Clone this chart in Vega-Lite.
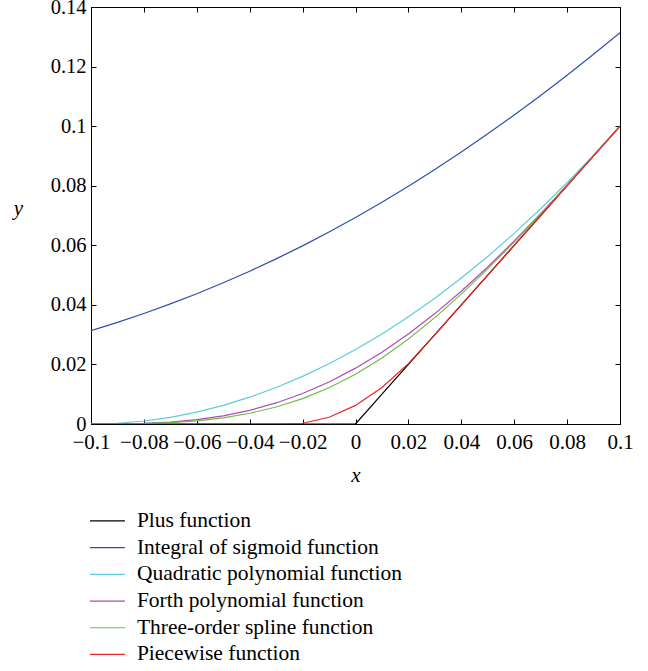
{
  "$schema": "https://vega.github.io/schema/vega-lite/v6.json",
  "width": 529,
  "height": 417,
  "padding": {"left": 91, "top": 7, "right": 28, "bottom": 247},
  "autosize": {"type": "none"},
  "background": "white",
  "config": {
    "view": {"stroke": "black", "strokeWidth": 1},
    "font": "Liberation Serif",
    "axis": {"grid": false, "domainColor": "black", "tickColor": "black", "tickSize": -5, "labelFont": "Liberation Serif", "labelFontSize": 21, "labelColor": "black", "labelOverlap": false, "labelBound": false, "labelFlush": false, "titleFont": "Liberation Serif", "titleFontSize": 21, "titleFontStyle": "italic", "titleFontWeight": "normal", "titleColor": "black"}
  },
  "data": {"values": [
    {"x": -0.1, "y": 0, "s": "Plus function"},
    {"x": -0.09, "y": 0, "s": "Plus function"},
    {"x": -0.08, "y": 0, "s": "Plus function"},
    {"x": -0.07, "y": 0, "s": "Plus function"},
    {"x": -0.06, "y": 0, "s": "Plus function"},
    {"x": -0.05, "y": 0, "s": "Plus function"},
    {"x": -0.04, "y": 0, "s": "Plus function"},
    {"x": -0.03, "y": 0, "s": "Plus function"},
    {"x": -0.02, "y": 0, "s": "Plus function"},
    {"x": -0.01, "y": 0, "s": "Plus function"},
    {"x": 0, "y": 0, "s": "Plus function"},
    {"x": 0.01, "y": 0.01, "s": "Plus function"},
    {"x": 0.02, "y": 0.02, "s": "Plus function"},
    {"x": 0.03, "y": 0.03, "s": "Plus function"},
    {"x": 0.04, "y": 0.04, "s": "Plus function"},
    {"x": 0.05, "y": 0.05, "s": "Plus function"},
    {"x": 0.06, "y": 0.06, "s": "Plus function"},
    {"x": 0.07, "y": 0.07, "s": "Plus function"},
    {"x": 0.08, "y": 0.08, "s": "Plus function"},
    {"x": 0.09, "y": 0.09, "s": "Plus function"},
    {"x": 0.1, "y": 0.1, "s": "Plus function"},
    {"x": -0.1, "y": 0.03133, "s": "Integral of sigmoid function"},
    {"x": -0.09, "y": 0.03412, "s": "Integral of sigmoid function"},
    {"x": -0.08, "y": 0.03711, "s": "Integral of sigmoid function"},
    {"x": -0.07, "y": 0.04032, "s": "Integral of sigmoid function"},
    {"x": -0.06, "y": 0.04375, "s": "Integral of sigmoid function"},
    {"x": -0.05, "y": 0.04741, "s": "Integral of sigmoid function"},
    {"x": -0.04, "y": 0.0513, "s": "Integral of sigmoid function"},
    {"x": -0.03, "y": 0.05544, "s": "Integral of sigmoid function"},
    {"x": -0.02, "y": 0.05981, "s": "Integral of sigmoid function"},
    {"x": -0.01, "y": 0.06444, "s": "Integral of sigmoid function"},
    {"x": 0, "y": 0.06931, "s": "Integral of sigmoid function"},
    {"x": 0.01, "y": 0.07444, "s": "Integral of sigmoid function"},
    {"x": 0.02, "y": 0.07981, "s": "Integral of sigmoid function"},
    {"x": 0.03, "y": 0.08544, "s": "Integral of sigmoid function"},
    {"x": 0.04, "y": 0.0913, "s": "Integral of sigmoid function"},
    {"x": 0.05, "y": 0.09741, "s": "Integral of sigmoid function"},
    {"x": 0.06, "y": 0.10375, "s": "Integral of sigmoid function"},
    {"x": 0.07, "y": 0.11032, "s": "Integral of sigmoid function"},
    {"x": 0.08, "y": 0.11711, "s": "Integral of sigmoid function"},
    {"x": 0.09, "y": 0.12412, "s": "Integral of sigmoid function"},
    {"x": 0.1, "y": 0.13133, "s": "Integral of sigmoid function"},
    {"x": -0.1, "y": 0, "s": "Quadratic polynomial function"},
    {"x": -0.09, "y": 0.00025, "s": "Quadratic polynomial function"},
    {"x": -0.08, "y": 0.001, "s": "Quadratic polynomial function"},
    {"x": -0.07, "y": 0.00225, "s": "Quadratic polynomial function"},
    {"x": -0.06, "y": 0.004, "s": "Quadratic polynomial function"},
    {"x": -0.05, "y": 0.00625, "s": "Quadratic polynomial function"},
    {"x": -0.04, "y": 0.009, "s": "Quadratic polynomial function"},
    {"x": -0.03, "y": 0.01225, "s": "Quadratic polynomial function"},
    {"x": -0.02, "y": 0.016, "s": "Quadratic polynomial function"},
    {"x": -0.01, "y": 0.02025, "s": "Quadratic polynomial function"},
    {"x": 0, "y": 0.025, "s": "Quadratic polynomial function"},
    {"x": 0.01, "y": 0.03025, "s": "Quadratic polynomial function"},
    {"x": 0.02, "y": 0.036, "s": "Quadratic polynomial function"},
    {"x": 0.03, "y": 0.04225, "s": "Quadratic polynomial function"},
    {"x": 0.04, "y": 0.049, "s": "Quadratic polynomial function"},
    {"x": 0.05, "y": 0.05625, "s": "Quadratic polynomial function"},
    {"x": 0.06, "y": 0.064, "s": "Quadratic polynomial function"},
    {"x": 0.07, "y": 0.07225, "s": "Quadratic polynomial function"},
    {"x": 0.08, "y": 0.081, "s": "Quadratic polynomial function"},
    {"x": 0.09, "y": 0.09025, "s": "Quadratic polynomial function"},
    {"x": 0.1, "y": 0.1, "s": "Quadratic polynomial function"},
    {"x": -0.1, "y": 0, "s": "Forth polynomial function"},
    {"x": -0.09, "y": 0.00002, "s": "Forth polynomial function"},
    {"x": -0.08, "y": 0.00019, "s": "Forth polynomial function"},
    {"x": -0.07, "y": 0.00062, "s": "Forth polynomial function"},
    {"x": -0.06, "y": 0.00144, "s": "Forth polynomial function"},
    {"x": -0.05, "y": 0.00273, "s": "Forth polynomial function"},
    {"x": -0.04, "y": 0.00459, "s": "Forth polynomial function"},
    {"x": -0.03, "y": 0.00707, "s": "Forth polynomial function"},
    {"x": -0.02, "y": 0.01024, "s": "Forth polynomial function"},
    {"x": -0.01, "y": 0.01412, "s": "Forth polynomial function"},
    {"x": 0, "y": 0.01875, "s": "Forth polynomial function"},
    {"x": 0.01, "y": 0.02412, "s": "Forth polynomial function"},
    {"x": 0.02, "y": 0.03024, "s": "Forth polynomial function"},
    {"x": 0.03, "y": 0.03707, "s": "Forth polynomial function"},
    {"x": 0.04, "y": 0.04459, "s": "Forth polynomial function"},
    {"x": 0.05, "y": 0.05273, "s": "Forth polynomial function"},
    {"x": 0.06, "y": 0.06144, "s": "Forth polynomial function"},
    {"x": 0.07, "y": 0.07062, "s": "Forth polynomial function"},
    {"x": 0.08, "y": 0.08019, "s": "Forth polynomial function"},
    {"x": 0.09, "y": 0.09002, "s": "Forth polynomial function"},
    {"x": 0.1, "y": 0.1, "s": "Forth polynomial function"},
    {"x": -0.1, "y": 0, "s": "Three-order spline function"},
    {"x": -0.09, "y": 0.00002, "s": "Three-order spline function"},
    {"x": -0.08, "y": 0.00013, "s": "Three-order spline function"},
    {"x": -0.07, "y": 0.00045, "s": "Three-order spline function"},
    {"x": -0.06, "y": 0.00107, "s": "Three-order spline function"},
    {"x": -0.05, "y": 0.00208, "s": "Three-order spline function"},
    {"x": -0.04, "y": 0.0036, "s": "Three-order spline function"},
    {"x": -0.03, "y": 0.00572, "s": "Three-order spline function"},
    {"x": -0.02, "y": 0.00853, "s": "Three-order spline function"},
    {"x": -0.01, "y": 0.01215, "s": "Three-order spline function"},
    {"x": 0, "y": 0.01667, "s": "Three-order spline function"},
    {"x": 0.01, "y": 0.02215, "s": "Three-order spline function"},
    {"x": 0.02, "y": 0.02853, "s": "Three-order spline function"},
    {"x": 0.03, "y": 0.03572, "s": "Three-order spline function"},
    {"x": 0.04, "y": 0.0436, "s": "Three-order spline function"},
    {"x": 0.05, "y": 0.05208, "s": "Three-order spline function"},
    {"x": 0.06, "y": 0.06107, "s": "Three-order spline function"},
    {"x": 0.07, "y": 0.07045, "s": "Three-order spline function"},
    {"x": 0.08, "y": 0.08013, "s": "Three-order spline function"},
    {"x": 0.09, "y": 0.09002, "s": "Three-order spline function"},
    {"x": 0.1, "y": 0.1, "s": "Three-order spline function"},
    {"x": -0.1, "y": 0, "s": "Piecewise function"},
    {"x": -0.09, "y": 0, "s": "Piecewise function"},
    {"x": -0.08, "y": 0, "s": "Piecewise function"},
    {"x": -0.07, "y": 0, "s": "Piecewise function"},
    {"x": -0.06, "y": 0, "s": "Piecewise function"},
    {"x": -0.05, "y": 0, "s": "Piecewise function"},
    {"x": -0.04, "y": 0, "s": "Piecewise function"},
    {"x": -0.03, "y": 0, "s": "Piecewise function"},
    {"x": -0.02, "y": 0.00025, "s": "Piecewise function"},
    {"x": -0.01, "y": 0.00225, "s": "Piecewise function"},
    {"x": 0, "y": 0.00625, "s": "Piecewise function"},
    {"x": 0.01, "y": 0.01225, "s": "Piecewise function"},
    {"x": 0.02, "y": 0.02025, "s": "Piecewise function"},
    {"x": 0.03, "y": 0.03, "s": "Piecewise function"},
    {"x": 0.04, "y": 0.04, "s": "Piecewise function"},
    {"x": 0.05, "y": 0.05, "s": "Piecewise function"},
    {"x": 0.06, "y": 0.06, "s": "Piecewise function"},
    {"x": 0.07, "y": 0.07, "s": "Piecewise function"},
    {"x": 0.08, "y": 0.08, "s": "Piecewise function"},
    {"x": 0.09, "y": 0.09, "s": "Piecewise function"},
    {"x": 0.1, "y": 0.1, "s": "Piecewise function"}
  ]},
  "layer": [
    {
      "mark": {"type": "point", "opacity": 0},
      "encoding": {
        "x": {"field": "x", "type": "quantitative", "scale": {"domain": [-0.1, 0.1], "nice": false, "zero": false}, "axis": {"orient": "top", "labels": false, "title": null, "domain": false, "values": [-0.1, -0.08, -0.06, -0.04, -0.02, 0, 0.02, 0.04, 0.06, 0.08, 0.1]}},
        "y": {"field": "y", "type": "quantitative", "scale": {"domain": [0, 0.14], "nice": false}, "axis": {"orient": "right", "labels": false, "title": null, "domain": false, "values": [0, 0.02, 0.04, 0.06, 0.08, 0.1, 0.12, 0.14]}}
      }
    },
    {
      "mark": {"type": "line", "strokeWidth": 1.2, "clip": true},
      "encoding": {
        "x": {"field": "x", "type": "quantitative", "scale": {"domain": [-0.1, 0.1], "nice": false, "zero": false}, "axis": {"orient": "bottom", "title": "x", "values": [-0.1, -0.08, -0.06, -0.04, -0.02, 0, 0.02, 0.04, 0.06, 0.08, 0.1], "format": "~g", "labelPadding": 12.5, "titlePadding": 11.5}},
        "y": {"field": "y", "type": "quantitative", "scale": {"domain": [0, 0.14], "nice": false}, "axis": {"orient": "left", "title": "y", "values": [0, 0.02, 0.04, 0.06, 0.08, 0.1, 0.12, 0.14], "format": "~g", "labelPadding": 10, "labelFontSize": 20.5, "titleAngle": 0, "titleX": -73, "titleY": 201, "titleAlign": "center", "titleBaseline": "middle"}},
        "color": {"field": "s", "type": "nominal", "title": null,
          "scale": {"domain": ["Plus function", "Integral of sigmoid function", "Quadratic polynomial function", "Forth polynomial function", "Three-order spline function", "Piecewise function"],
                    "range": ["#000000", "#2d4fae", "#5ecbdb", "#b248b8", "#6cbf44", "#ee2424"]},
          "legend": {"orient": "none", "legendX": 5.7, "legendY": 503.2, "symbolType": "M-3,0H3", "symbolSize": 136, "symbolStrokeWidth": 1.2, "labelOffset": 18.7, "labelFont": "Liberation Serif", "labelFontSize": 21.5, "labelColor": "black", "rowPadding": 3.7, "padding": 0, "labelLimit": 400}
        }
      }
    }
  ],
  "resolve": {"axis": {"x": "independent", "y": "independent"}}
}
